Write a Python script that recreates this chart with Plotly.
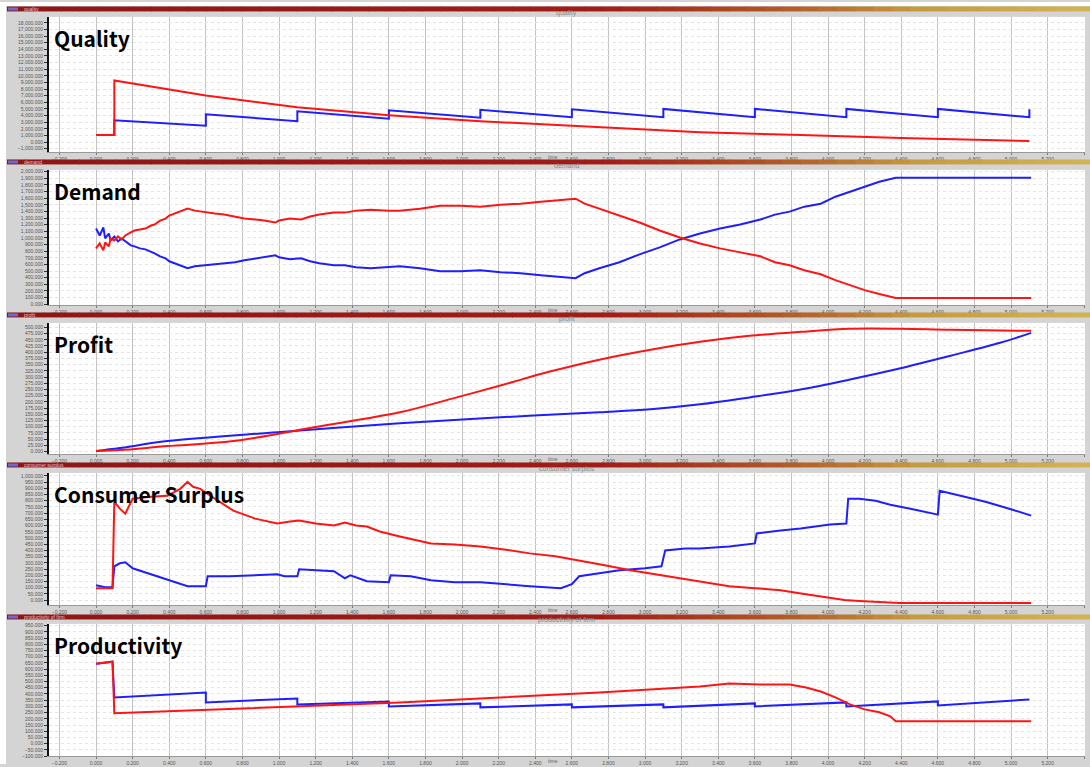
import plotly.graph_objects as go

# ---------------- data ----------------
# Quality
q_red_t = [0, 0.1, 0.1, 0.3, 0.6, 1.1, 1.6, 2.1, 2.75, 3.3, 3.85, 4.4, 5.1]
q_red_v = [1050, 1050, 9300, 8400, 7050, 5250, 4050, 3150, 2250, 1500, 1050, 600, 150]
q_blue_t = [0, 0.1, 0.1, 0.6, 0.6, 1.1, 1.1, 1.6, 1.6, 2.1, 2.1, 2.6, 2.6, 3.1, 3.1,
            3.6, 3.6, 4.1, 4.1, 4.6, 4.6, 5.1, 5.1]
q_blue_v = [1050, 1050, 3300, 2475, 4200, 3150, 4650, 3525, 4800, 3675, 4875, 3750, 4950,
            3750, 5000, 3750, 5000, 3750, 5000, 3750, 5000, 3750, 4950]

# Demand
d_t = [0, 0.02, 0.04, 0.05, 0.07, 0.08, 0.1, 0.12, 0.14, 0.16,
       0.19, 0.21, 0.24, 0.27, 0.3, 0.32, 0.35, 0.38, 0.4, 0.43,
       0.46, 0.5, 0.54, 0.6, 0.65, 0.7, 0.76, 0.81, 0.87, 0.92,
       0.98, 1.0, 1.06, 1.12, 1.17, 1.22, 1.3, 1.36, 1.42, 1.5,
       1.6, 1.66, 1.77, 1.88, 1.99, 2.1, 2.21, 2.32, 2.43, 2.54,
       2.62, 2.67, 2.75, 2.86, 2.97, 3.08, 3.19, 3.3, 3.41, 3.52,
       3.63, 3.71, 3.79, 3.87, 3.96, 4.04, 4.12, 4.2, 4.28, 4.37,
       5.11]
d_red = [843, 918, 813, 933, 873, 993, 963, 1023, 978, 1038,
         1083, 1113, 1128, 1143, 1188, 1203, 1263, 1293, 1338, 1368,
         1398, 1443, 1413, 1383, 1368, 1353, 1323, 1293, 1278, 1263,
         1233, 1263, 1293, 1278, 1323, 1353, 1383, 1383, 1413, 1428,
         1413, 1413, 1443, 1488, 1488, 1473, 1503, 1518, 1548, 1578,
         1593, 1518, 1443, 1338, 1233, 1113, 1008, 918, 843, 783,
         723, 633, 588, 513, 453, 363, 288, 213, 153, 93,
         93]
d_blue = [1143, 1038, 1158, 993, 1068, 963, 1023, 948, 993, 948,
          888, 873, 843, 828, 798, 768, 723, 693, 648, 618,
          588, 543, 573, 588, 603, 618, 633, 663, 693, 708,
          738, 708, 678, 693, 648, 618, 588, 588, 558, 543,
          558, 573, 543, 498, 498, 513, 483, 468, 438, 408,
          393, 468, 543, 633, 753, 858, 978, 1068, 1143, 1203,
          1278, 1353, 1398, 1473, 1518, 1623, 1698, 1773, 1848, 1908,
          1908]

# Profit
p_red_t = [0, 0.13, 0.39, 0.75, 1.19, 1.66, 1.93, 2.21, 2.48, 2.75, 3.03, 3.3, 3.57,
           3.85, 4.12, 4.39, 4.67, 5.11]
p_red_v = [2, 6, 22, 42, 98, 158, 210, 266, 322, 370, 410, 442, 466, 482, 494, 494, 490, 486]
p_blue_t = [0, 0.13, 0.39, 0.99, 1.66, 2.21, 2.75, 3.03, 3.3, 3.57, 3.85, 4.12, 4.39,
            4.67, 4.94, 5.11]
p_blue_v = [2, 14, 42, 78, 114, 138, 158, 170, 190, 218, 250, 290, 334, 386, 438, 478]

# Consumer surplus
cs_red_t = [0, 0.09, 0.1, 0.13, 0.16, 0.18, 0.2, 0.3, 0.39, 0.46,
            0.5, 0.53, 0.57, 0.65, 0.75, 0.87, 0.99, 1.06, 1.11, 1.2,
            1.3, 1.36, 1.42, 1.48, 1.55, 1.66, 1.83, 1.96, 2.1, 2.23,
            2.37, 2.51, 2.64, 2.78, 2.92, 3.05, 3.19, 3.33, 3.46, 3.6,
            3.74, 3.87, 4.01, 4.09, 4.17, 4.28, 4.39, 5.11]
cs_red_v = [96, 96, 792, 736, 696, 752, 816, 832, 840, 896,
            952, 912, 896, 816, 720, 656, 616, 632, 640, 616,
            600, 624, 600, 592, 552, 512, 456, 448, 432, 408,
            376, 352, 320, 280, 240, 208, 176, 144, 112, 96,
            80, 48, 16, 0, -8, -16, -24, -24]
cs_blue_t = [0, 0.05, 0.09, 0.1, 0.13, 0.16, 0.2, 0.3, 0.39, 0.5,
             0.6, 0.61, 0.73, 0.84, 0.99, 1.03, 1.1, 1.11, 1.2, 1.3,
             1.36, 1.39, 1.48, 1.6, 1.61, 1.72, 1.83, 1.96, 2.1, 2.23,
             2.37, 2.54, 2.6, 2.64, 2.75, 2.86, 3.0, 3.09, 3.11, 3.22,
             3.3, 3.46, 3.6, 3.61, 3.74, 3.85, 4.01, 4.1, 4.11, 4.17,
             4.26, 4.34, 4.45, 4.6, 4.61, 4.72, 4.86, 4.99, 5.11]
cs_blue_v = [120, 104, 104, 272, 296, 304, 256, 208, 168, 112,
             112, 192, 192, 200, 208, 192, 192, 248, 240, 232,
             176, 200, 152, 144, 200, 192, 160, 144, 144, 128,
             112, 96, 128, 192, 216, 240, 256, 272, 400, 416,
             416, 432, 456, 536, 560, 576, 608, 616, 816, 816,
             800, 768, 736, 688, 880, 840, 792, 736, 680]

# Productivity
pr_red_t = [0, 0.09, 0.1, 1.66, 2.75, 3.3, 3.46, 3.63, 3.79, 3.88, 3.96, 4.04, 4.12,
            4.2, 4.28, 4.34, 4.37, 5.11]
pr_red_v = [644, 660, 244, 332, 412, 460, 484, 476, 476, 452, 420, 372, 316, 276, 252,
            220, 180, 180]
pr_blue_t = [0, 0.09, 0.1, 0.6, 0.6, 1.1, 1.1, 1.6, 1.6, 2.1, 2.1, 2.6, 2.6, 3.1, 3.1,
             3.6, 3.6, 4.1, 4.1, 4.6, 4.6, 5.1]
pr_blue_v = [644, 660, 372, 412, 332, 364, 316, 340, 300, 324, 292, 316, 292, 316, 292,
             324, 300, 332, 300, 340, 308, 356]

panel_labels = ["Quality", "Demand", "Profit", "Consumer Surplus", "Productivity"]
panel_titles = ["quality", "demand", "profit", "consumer surplus", "productivity of firm"]

# ---------------- layout helpers ----------------
W, H = 1090, 767
RED = "#ff1414"
BLUE = "#1e1eff"

# (top px, bottom px, y-range, dtick)
panels = [
    (15, 151, [-1500, 18900], 1000),
    (169, 305, [-12, 2028], 100),
    (323, 455, [-10, 518], 25),
    (474, 607, [-40, 1024], 50),
    (626, 759, [-100, 964], 50),
]
bar_centers = [7, 161, 315, 466, 619]
x_left, x_right = 49, 1085
x_range = [-0.257, 5.404]

series = [
    [(q_blue_t, q_blue_v, BLUE, "linear"), (q_red_t, q_red_v, RED, "linear")],
    [(d_t, d_blue, BLUE, "linear"), (d_t, d_red, RED, "linear")],
    [(p_blue_t, p_blue_v, BLUE, "spline"), (p_red_t, p_red_v, RED, "spline")],
    [(cs_blue_t, cs_blue_v, BLUE, "linear"), (cs_red_t, cs_red_v, RED, "linear")],
    [(pr_blue_t, pr_blue_v, BLUE, "linear"), (pr_red_t, pr_red_v, RED, "linear")],
]

fig = go.Figure()
layout = dict(
    width=W, height=H, margin=dict(l=0, r=0, t=0, b=0),
    paper_bgcolor="#d4d4d4", plot_bgcolor="white", showlegend=False,
    font=dict(family="Liberation Sans, Arial, sans-serif"),
)
shapes = []
annotations = []


def py(p):
    return 1 - p / H


def lerp_color(stops, f):
    for i in range(len(stops) - 1):
        a, ca = stops[i]
        b, cb = stops[i + 1]
        if a <= f <= b:
            g = (f - a) / (b - a) if b > a else 0
            c1 = [int(ca[k:k + 2], 16) for k in (1, 3, 5)]
            c2 = [int(cb[k:k + 2], 16) for k in (1, 3, 5)]
            c = [round(c1[j] + (c2[j] - c1[j]) * g) for j in range(3)]
            return "#%02x%02x%02x" % tuple(c)
    return stops[-1][1]


bar_stops = [(0, "#8e1616"), (0.55, "#a21c16"), (0.72, "#b25a26"),
             (0.84, "#c69a3e"), (1.0, "#d2b456")]

# white border strips (left and top) as in the screenshot
shapes.append(dict(type="rect", xref="paper", yref="paper", x0=0, x1=6 / W, y0=0, y1=1,
                   fillcolor="white", line=dict(width=0), layer="below"))
shapes.append(dict(type="rect", xref="paper", yref="paper", x0=0, x1=1, y0=py(4), y1=1,
                   fillcolor="white", line=dict(width=0), layer="below"))

for i, (top, bot, yr, dt) in enumerate(panels):
    n = "" if i == 0 else str(i + 1)
    layout["xaxis" + n] = dict(
        domain=[x_left / W, x_right / W], range=x_range, anchor="y" + n,
        tick0=0, dtick=0.2, showgrid=True, gridcolor="#c2c2c2", gridwidth=1,
        tickformat=".3f", tickfont=dict(size=5, color="#555"),
        ticks="outside", ticklen=2, tickcolor="#777",
        showline=True, linecolor="#999", zeroline=False, fixedrange=True,
    )
    layout["yaxis" + n] = dict(
        domain=[py(bot), py(top)], range=yr, anchor="x" + n,
        tick0=0, dtick=dt, showgrid=True, gridcolor="#e4e4e4", griddash="dot",
        tickformat=",.3f", tickfont=dict(size=5, color="#555"),
        ticks="outside", ticklen=3, tickcolor="#333",
        showline=True, linecolor="#111", linewidth=2, zeroline=False, fixedrange=True,
    )
    for (tx, vy, col, shp) in series[i]:
        fig.add_trace(go.Scatter(
            x=tx, y=vy, mode="lines", xaxis="x" + n, yaxis="y" + n,
            line=dict(color=col, width=2, shape=shp), hoverinfo="skip"))

    # title bar gradient
    cy = bar_centers[i]
    nseg = 60
    x0p = 7
    for s in range(nseg):
        f0 = s / nseg
        f1 = (s + 1) / nseg
        shapes.append(dict(
            type="rect", xref="paper", yref="paper",
            x0=(x0p + (W - x0p) * f0) / W, x1=(x0p + (W - x0p) * f1 + 0.6) / W,
            y0=py(cy + 2.5), y1=py(cy - 2.5),
            fillcolor=lerp_color(bar_stops, (f0 + f1) / 2), line=dict(width=0), layer="above"))
    shapes.append(dict(type="rect", xref="paper", yref="paper",
                       x0=8 / W, x1=18 / W, y0=py(cy + 1.5), y1=py(cy - 1.5),
                       fillcolor="#6a6ad0", line=dict(width=0), layer="above"))
    annotations.append(dict(
        x=22 / W, y=py(cy), xref="paper", yref="paper", xanchor="left", yanchor="middle",
        text=panel_titles[i], showarrow=False, font=dict(size=5, color="#e9c3c3")))
    # faint title above plot
    annotations.append(dict(
        x=(x_left + x_right) / 2 / W, y=py(top - 4), xref="paper", yref="paper",
        xanchor="center", yanchor="middle", text=panel_titles[i], showarrow=False,
        font=dict(size=7, color="#8a8a8a")))
    # x axis name
    annotations.append(dict(
        x=553 / W, y=py(bot + 5), xref="paper", yref="paper",
        xanchor="center", yanchor="middle", text="time", showarrow=False,
        font=dict(size=5, color="#666")))
    # big panel label
    annotations.append(dict(
        x=52 / W, y=py(top + 21), xref="paper", yref="paper", xanchor="left",
        yanchor="middle", text="<b>%s</b>" % panel_labels[i], showarrow=False,
        font=dict(size=21, color="black", family="Noto Sans CJK KR, Noto Sans, sans-serif")))

layout["shapes"] = shapes
layout["annotations"] = annotations
fig.update_layout(**layout)
fig.write_html(
    "out.html",
    config={"displayModeBar": False},
    post_script="document.body.style.margin='0px';document.body.style.overflow='hidden';",
)
